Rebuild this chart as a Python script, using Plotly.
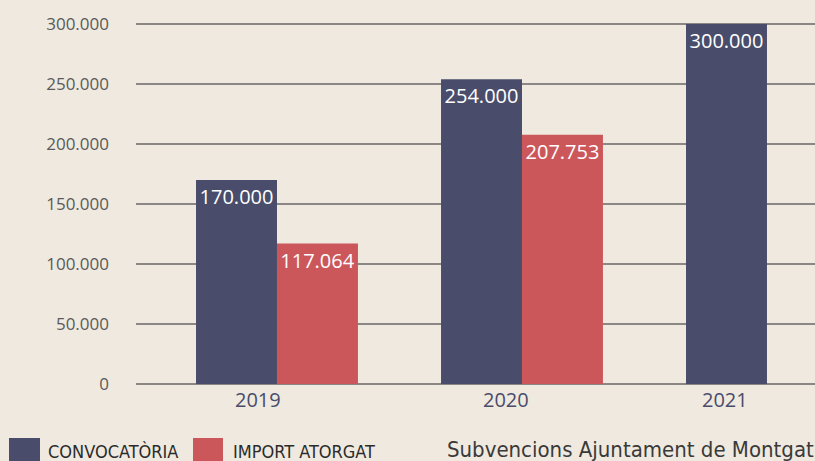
import plotly.graph_objects as go

years = ["2019", "2020", "2021"]
convocatoria = [170000, 254000, 300000]
import_atorgat = [117064, 207753, None]
y_ticks = [0, 50000, 100000, 150000, 200000, 250000, 300000]
legend_names = ["CONVOCATÒRIA", "IMPORT ATORGAT"]
subtitle = "Subvencions Ajuntament de Montgat"

BLUE = "#494d6b"
RED = "#cc575b"
BG = "#efe9df"
W, H = 815, 461
L, R, T, B = 136, 0, 10, 77
PW, PH = W - L - R, H - T - B
NARROW = "Liberation Sans Narrow, DejaVu Sans Condensed, sans-serif"

def px(x):
    return (x - L) / PW

def py(y):
    return (H - B - y) / PH

xs = list(range(len(years)))
fig = go.Figure()
for name, vals, col in [(legend_names[0], convocatoria, BLUE), (legend_names[1], import_atorgat, RED)]:
    fig.add_trace(go.Bar(
        x=xs, y=vals, name=name, marker=dict(color=col, line=dict(width=0)),
        texttemplate="%{y:,}", textposition="inside", insidetextanchor="end",
        textfont=dict(color="white", size=20, family="Open Sans"),
        showlegend=False, cliponaxis=False,
    ))

fig.update_layout(
    width=W, height=H, paper_bgcolor=BG, plot_bgcolor=BG,
    margin=dict(l=L, r=R, t=T, b=B),
    barmode="group", bargap=0.339, bargroupgap=0,
    separators=",.",
    uniformtext=dict(minsize=18, mode="show"),
    xaxis=dict(range=[-0.5755, 2.196], showticklabels=False, showgrid=False,
               zeroline=False, tickvals=[]),
    yaxis=dict(range=[0, 311667], tickvals=y_ticks, tickformat=",",
               showgrid=True, gridcolor="#8a8784", gridwidth=1.5,
               zeroline=True, zerolinecolor="#8a8784", zerolinewidth=1.5,
               tickfont=dict(size=17, color="#5a5a5a", family="Open Sans"),
               ticklabelstandoff=26),
    font=dict(family="Open Sans"),
)

# year labels
year_shift = [-19, -16, -42]
for i, yr in enumerate(years):
    fig.add_annotation(x=xs[i], y=py(399), xref="x", yref="paper", text=yr,
                       showarrow=False, xshift=year_shift[i],
                       font=dict(size=20, color=BLUE, family="Open Sans"),
                       xanchor="center", yanchor="middle")

# legend
legend_boxes = [(9, 40, BLUE, 46), (193, 223, RED, 231)]
for (x0, x1, col, tx), name in zip(legend_boxes, legend_names):
    fig.add_shape(type="rect", xref="paper", yref="paper",
                  x0=px(x0), x1=px(x1), y0=py(470), y1=py(438),
                  fillcolor=col, line=dict(width=0))
    fig.add_annotation(x=px(tx), y=py(451), xref="paper", yref="paper",
                       text=name, showarrow=False, xanchor="left", yanchor="middle",
                       font=dict(size=18, color="#2b2b2b", family=NARROW))

fig.add_annotation(x=px(445), y=py(449), xref="paper", yref="paper",
                   text=subtitle, showarrow=False, xanchor="left", yanchor="middle",
                   font=dict(size=22, color="#3a3a3a", family=NARROW))

fig.write_html("out.html", config={"displayModeBar": False},
               post_script="document.body.style.margin='0';document.body.style.overflow='hidden';")
